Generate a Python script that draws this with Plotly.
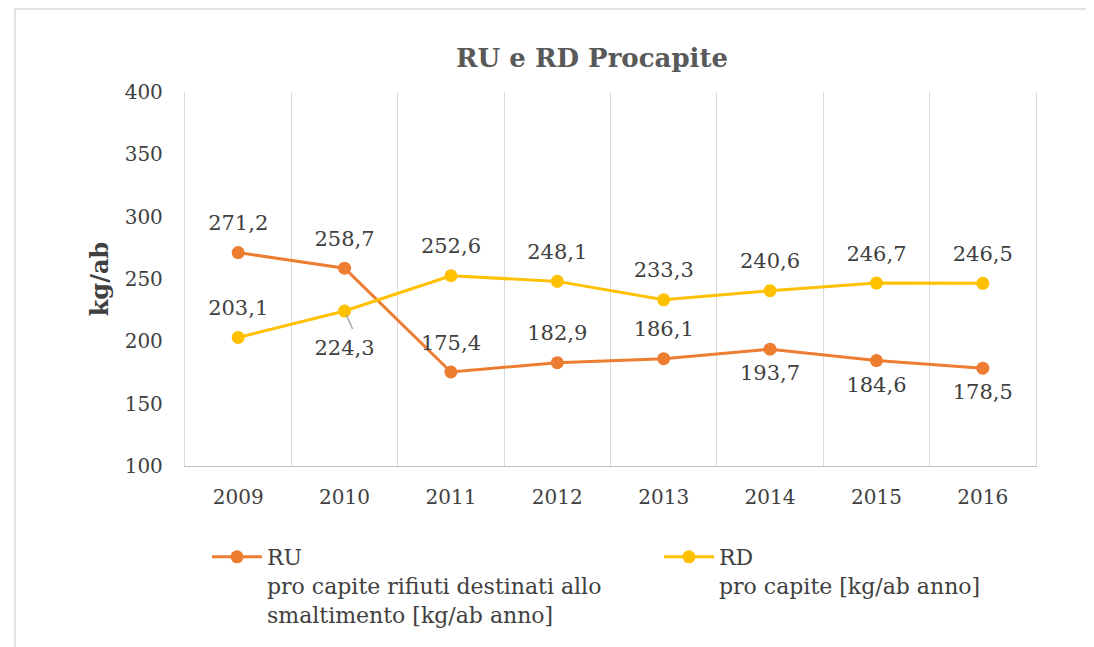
import plotly.graph_objects as go

years = ["2009", "2010", "2011", "2012", "2013", "2014", "2015", "2016"]
ru = [271.2, 258.7, 175.4, 182.9, 186.1, 193.7, 184.6, 178.5]
rd = [203.1, 224.3, 252.6, 248.1, 233.3, 240.6, 246.7, 246.5]
ru_label_pos = ["top", "top", "top", "top", "top", "bottom", "bottom", "bottom"]
rd_label_pos = ["top", "leader", "top", "top", "top", "top", "top", "top"]

FONT = "DejaVu Serif"
TXT = "#404040"
ORANGE = "#ED7D31"
GOLD = "#FFC000"
FS = 21   # data labels
TFS = 20  # tick labels
LFS = 22  # legend

# the page body adds an 8px offset; design in figure pixels = page pixels - 8
OFF = 8
W, H = 1094 - OFF, 647 - OFF
L, T, R, B = 185 - OFF, 92 - OFF, 1036 - OFF, 466 - OFF
PW, PH = R - L, B - T

fig = go.Figure()
fig.add_trace(go.Scatter(
    x=years, y=ru, mode="lines+markers", legend="legend",
    name="RU<br>pro capite rifiuti destinati allo<br>smaltimento [kg/ab anno]",
    line=dict(color=ORANGE, width=3), marker=dict(color=ORANGE, size=13)))
fig.add_trace(go.Scatter(
    x=years, y=rd, mode="lines+markers", legend="legend2",
    name="RD<br>pro capite [kg/ab anno]",
    line=dict(color=GOLD, width=3), marker=dict(color=GOLD, size=13)))


def fmt(v):
    return f"{v:.1f}".replace(".", ",")


# invisible marker sizes push the labels away from the points
PUSH = {"top": 26, "bottom": 23, "leader": 44}

shapes = []
for series, pos in ((ru, ru_label_pos), (rd, rd_label_pos)):
    fig.add_trace(go.Scatter(
        x=years, y=series, mode="markers+text", text=[fmt(v) for v in series],
        textposition=[("bottom" if p == "leader" else p) + " center" for p in pos],
        marker=dict(size=[PUSH[p] for p in pos], opacity=0),
        textfont=dict(family=FONT, size=FS, color=TXT),
        showlegend=False, hoverinfo="skip"))
    for i, (v, p) in enumerate(zip(series, pos)):
        if p == "leader":
            shapes.append(dict(type="line", xref="x", yref="y",
                               xsizemode="pixel", ysizemode="pixel",
                               xanchor=i, yanchor=v, x0=2, y0=-4, x1=8, y1=-18,
                               line=dict(color="#A6A6A6", width=1.5), layer="above"))

shapes.append(dict(type="rect", xref="paper", yref="paper",
                   x0=(15 - 185) / PW, x1=(1110 - 185) / PW,
                   y0=(466 - 660) / PH, y1=(466 - 9) / PH,
                   line=dict(color="#D9D9D9", width=1.5),
                   fillcolor="rgba(0,0,0,0)", layer="below"))

fig.update_layout(
    width=W, height=H,
    margin=dict(l=L, r=W - R, t=T, b=H - B, autoexpand=False),
    paper_bgcolor="white", plot_bgcolor="white",
    font=dict(family=FONT, size=TFS, color=TXT),
    title=dict(text="<b>RU e RD Procapite</b>", x=(592 - OFF) / W, xanchor="center",
               y=1 - (58 - OFF) / H, yanchor="middle",
               font=dict(family=FONT, size=26, color="#595959")),
    xaxis=dict(type="category", range=[-0.5, 7.5], tickson="boundaries",
               showgrid=True, gridcolor="#D9D9D9", gridwidth=1.3,
               showline=True, linecolor="#BFBFBF", linewidth=1.3,
               ticks="", ticklabelstandoff=13,
               tickfont=dict(family=FONT, size=TFS, color=TXT)),
    yaxis=dict(range=[100, 400], dtick=50, showgrid=False, zeroline=False,
               showline=True, mirror=True, linecolor="#D9D9D9", linewidth=1.3,
               ticks="", ticklabelstandoff=17,
               title=dict(text="<b>kg/ab</b>", standoff=9,
                          font=dict(family=FONT, size=24, color=TXT)),
               tickfont=dict(family=FONT, size=TFS, color=TXT)),
    legend=dict(orientation="h", x=22 / PW, y=(466 - 536) / PH,
                xanchor="left", yanchor="top", valign="top",
                font=dict(family=FONT, size=LFS, color=TXT), itemwidth=50,
                bgcolor="rgba(0,0,0,0)"),
    legend2=dict(orientation="h", x=474 / PW, y=(466 - 536) / PH,
                 xanchor="left", yanchor="top", valign="top",
                 font=dict(family=FONT, size=LFS, color=TXT), itemwidth=50,
                 bgcolor="rgba(0,0,0,0)"),
    shapes=shapes,
)

fig.write_html("out.html")
